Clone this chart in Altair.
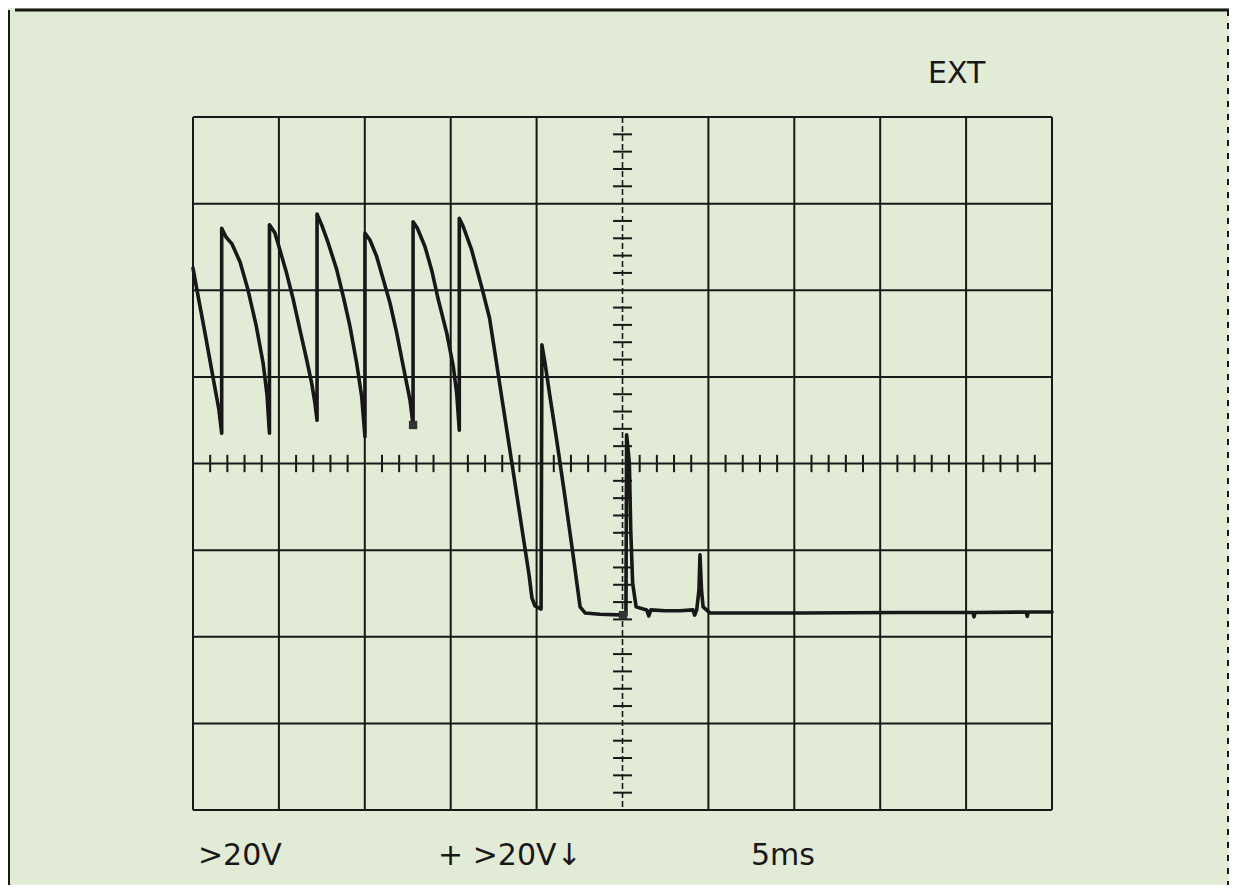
import altair as alt
import pandas as pd

# ---- data (time in ms, amplitude in V) ----
trace_ms = [
    0.00, 0.23, 0.70, 1.16, 1.51, 1.67,
    1.67, 1.92, 2.27, 2.74, 3.20, 3.67, 4.08, 4.31, 4.45,
    4.45, 4.77, 5.06, 5.45, 5.84, 6.23, 6.62, 6.91, 7.10, 7.22,
    7.22, 7.49, 7.88, 8.37, 8.75, 9.14, 9.53, 9.82, 10.01,
    10.01, 10.30, 10.69, 11.08, 11.47, 11.86, 12.24, 12.63, 12.81,
    12.81, 13.06, 13.50, 13.89, 14.28, 14.77, 15.15, 15.35, 15.50,
    15.50, 15.73, 16.22, 16.80, 17.26, 17.55, 18.04, 18.57, 19.15, 19.56,
    19.73, 19.91, 20.26,
    20.31, 20.49, 20.78, 21.17, 21.65, 22.14, 22.53, 22.82, 23.69, 25.20,
    25.24, 25.40, 25.48, 25.59, 25.79, 26.41, 26.53, 26.65, 27.47, 28.35,
    29.10, 29.20, 29.32, 29.45, 29.51, 29.60, 29.69, 30.09, 35.33, 41.15,
    45.40, 45.46, 45.52, 48.50, 48.56, 48.62, 50.00,
]
trace_v = [
    45.1, 40.1, 30.1, 20.0, 12.4, 7.0,
    54.3, 52.3, 50.7, 46.5, 40.1, 32.0, 23.2, 15.8, 7.0,
    55.1, 53.2, 49.3, 43.9, 37.8, 30.8, 23.9, 18.5, 13.9, 10.0,
    57.6, 55.1, 50.8, 44.7, 38.5, 31.6, 23.1, 15.4, 6.2,
    53.2, 51.6, 47.8, 42.4, 37.0, 30.1, 22.4, 14.7, 8.9,
    55.8, 54.3, 50.1, 44.7, 37.8, 30.1, 22.4, 16.2, 7.7,
    56.6, 54.7, 49.3, 40.8, 33.6, 26.2, 13.5, -0.1, -15.1, -25.7,
    -31.1, -32.9, -33.6,
    27.4, 23.2, 15.4, 5.4, -7.7, -21.6, -33.1, -34.5, -34.8, -35.0,
    6.6, 0.1, -15.4, -27.6, -33.1, -33.8, -35.2, -33.8, -34.0, -34.0,
    -33.8, -35.0, -33.8, -29.2, -21.1, -29.2, -33.1, -34.5, -34.5, -34.4,
    -34.4, -35.4, -34.4, -34.3, -35.3, -34.3, -34.3,
]
marker_ms = [12.81, 25.03]
marker_v = [8.9, -35.0]

grid_x_ms = [0, 5, 10, 15, 20, 30, 35, 40, 45, 50]
grid_y_v = [-80, -60, -40, -20, 0, 20, 40, 60, 80]
center_x_ms = [25]
minor_x_ms = [t for t in range(1, 50) if t % 5 != 0]
minor_y_v = [v for v in range(-76, 77, 4) if v % 20 != 0]

label_texts = ["EXT", ">20V", "+ >20V\u2193", "5ms"]
label_ms = [42.78, 0.29, 14.26, 32.48]
label_v = [87.9, -92.6, -92.6, -92.6]

INK = "#181818"
BG = "#e2ebd5"

xs = alt.Scale(domain=[0, 50], nice=False, zero=False)
ys = alt.Scale(domain=[-80, 80], nice=False, zero=False)

trace_df = pd.DataFrame({"t": trace_ms, "v": trace_v, "i": list(range(len(trace_ms)))})
marker_df = pd.DataFrame({"t": marker_ms, "v": marker_v})
gx_df = pd.DataFrame({"t": grid_x_ms})
gy_df = pd.DataFrame({"v": grid_y_v})
cx_df = pd.DataFrame({"t": center_x_ms})
mx_df = pd.DataFrame({"t": minor_x_ms, "lo": [-2.0] * len(minor_x_ms), "hi": [2.0] * len(minor_x_ms)})
my_df = pd.DataFrame({"v": minor_y_v, "lo": [24.45] * len(minor_y_v), "hi": [25.55] * len(minor_y_v)})
lab_df = pd.DataFrame({"t": label_ms, "v": label_v, "s": label_texts})

grid_v = alt.Chart(gx_df).mark_rule(color=INK, strokeWidth=2).encode(
    x=alt.X("t:Q", scale=xs, axis=None))
grid_h = alt.Chart(gy_df).mark_rule(color=INK, strokeWidth=2).encode(
    y=alt.Y("v:Q", scale=ys, axis=None))
center_v = alt.Chart(cx_df).mark_rule(color=INK, strokeWidth=1.6, strokeDash=[6, 3]).encode(
    x=alt.X("t:Q", scale=xs, axis=None))
minor_x = alt.Chart(mx_df).mark_rule(color=INK, strokeWidth=2).encode(
    x=alt.X("t:Q", scale=xs, axis=None),
    y=alt.Y("lo:Q", scale=ys, axis=None), y2="hi:Q")
minor_y = alt.Chart(my_df).mark_rule(color=INK, strokeWidth=2).encode(
    y=alt.Y("v:Q", scale=ys, axis=None),
    x=alt.X("lo:Q", scale=xs, axis=None), x2="hi:Q")
trace = alt.Chart(trace_df).mark_line(color=INK, strokeWidth=3.6, strokeJoin="round", strokeCap="round").encode(
    x=alt.X("t:Q", scale=xs, axis=None),
    y=alt.Y("v:Q", scale=ys, axis=None),
    order="i:Q")
markers = alt.Chart(marker_df).mark_square(size=70, color="#333333", opacity=1).encode(
    x=alt.X("t:Q", scale=xs, axis=None),
    y=alt.Y("v:Q", scale=ys, axis=None))
labels = alt.Chart(lab_df).mark_text(align="left", baseline="alphabetic", font="DejaVu Sans",
                                      fontSize=30, color=INK).encode(
    x=alt.X("t:Q", scale=xs, axis=None),
    y=alt.Y("v:Q", scale=ys, axis=None),
    text="s:N")

# outer page frame (decoration)
frame_top = alt.Chart(gx_df.head(1)).mark_rule(color=INK, strokeWidth=3).encode(
    x=alt.value(-178), x2=alt.value(1036), y=alt.value(-107))
frame_left = alt.Chart(gx_df.head(1)).mark_rule(color=INK, strokeWidth=2).encode(
    x=alt.value(-184), y=alt.value(-107), y2=alt.value(770))
frame_right = alt.Chart(gx_df.head(1)).mark_rule(color=INK, strokeWidth=2, strokeDash=[6, 7]).encode(
    x=alt.value(1035), y=alt.value(-107), y2=alt.value(770))

chart = alt.layer(
    grid_v, grid_h, center_v, minor_x, minor_y, trace, markers, labels,
    frame_top, frame_left, frame_right,
).properties(
    width=859, height=693,
    padding={"left": 185, "top": 109, "right": 177, "bottom": 75},
    autosize=alt.AutoSizeParams(type="none"),
    background=BG,
).configure_view(stroke=None)

chart.save("out.html", embed_options={"renderer": "svg", "actions": False})
